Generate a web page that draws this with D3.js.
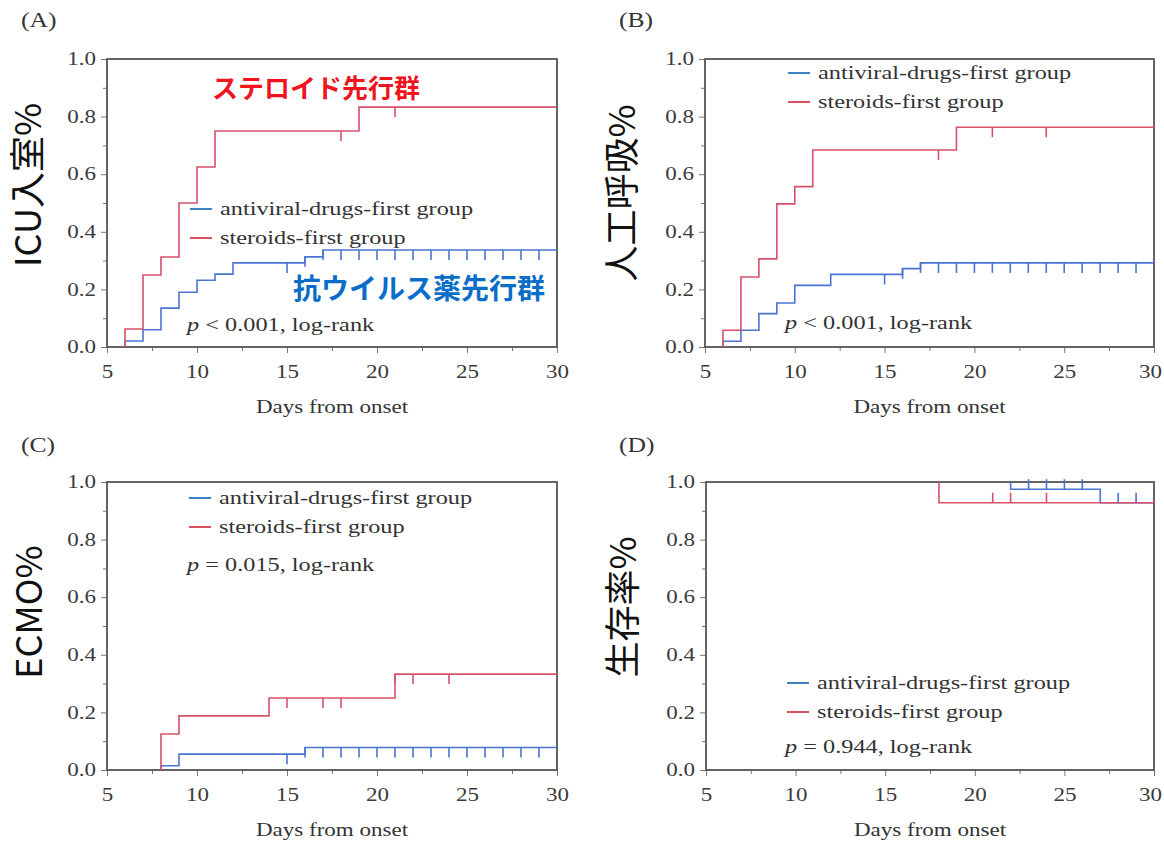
<!DOCTYPE html>
<html>
<head>
<meta charset="utf-8">
<script src="https://cdn.jsdelivr.net/npm/d3@7"></script>
<style>
  body { margin: 0; background: #fff; }
  svg { display: block; }
</style>
</head>
<body>
<svg width="1164" height="842"></svg>
<script>
// **** Data ****
var dayTicks = [5, 10, 15, 20, 25, 30];
var dayMinorTicks = [7.5, 12.5, 17.5, 22.5, 27.5];
var rateTicks = [0, 0.2, 0.4, 0.6, 0.8, 1.0];
var rateMinorTicks = [0.1, 0.3, 0.5, 0.7, 0.9];

var legendNames = ["antiviral-drugs-first group", "steroids-first group"];

// (A) ICU admission
var icuAntiviralTimes = [6, 7, 8, 9, 10, 11, 12, 16, 17];
var icuAntiviralValues = [0.021, 0.06, 0.135, 0.19, 0.232, 0.253, 0.292, 0.313, 0.337];
var icuAntiviralCensor = [15, 16, 17, 18, 19, 20, 21, 22, 23, 24, 25, 26, 27, 28, 29];
var icuSteroidTimes = [6, 7, 8, 9, 10, 11, 19];
var icuSteroidValues = [0.0625, 0.25, 0.3125, 0.5, 0.625, 0.75, 0.833];
var icuSteroidCensor = [18, 21];

// (B) mechanical ventilation
var ventAntiviralTimes = [6, 7, 8, 9, 10, 12, 16, 17];
var ventAntiviralValues = [0.02, 0.058, 0.116, 0.153, 0.214, 0.252, 0.272, 0.292];
var ventAntiviralCensor = [15, 16, 17, 18, 19, 20, 21, 22, 23, 24, 25, 26, 27, 28, 29];
var ventSteroidTimes = [6, 7, 8, 9, 10, 11, 19];
var ventSteroidValues = [0.058, 0.243, 0.306, 0.497, 0.557, 0.684, 0.763];
var ventSteroidCensor = [18, 21, 24];

// (C) ECMO
var ecmoAntiviralTimes = [8, 9, 16];
var ecmoAntiviralValues = [0.015, 0.055, 0.078];
var ecmoAntiviralCensor = [15, 16, 17, 18, 19, 20, 21, 22, 23, 24, 25, 26, 27, 28, 29];
var ecmoSteroidTimes = [8, 9, 14, 21];
var ecmoSteroidValues = [0.125, 0.188, 0.25, 0.333];
var ecmoSteroidCensor = [15, 17, 18, 21, 22, 24];

// (D) survival
var survAntiviralTimes = [22, 27];
var survAntiviralValues = [0.975, 0.928];
var survAntiviralCensor = [23, 24, 25, 26, 28, 29];
var survSteroidTimes = [18];
var survSteroidValues = [0.928];
var survSteroidCensor = [21, 22, 24];

// **** Layout ****
var SX = 1.28;            // the original figure is stretched sideways
var serif = "'Liberation Serif', 'Times New Roman', serif";
var cjk = "'Noto Sans CJK JP', 'Noto Sans', sans-serif";
var blue = "#4b74d2", red = "#d8506a";
var blueKey = "#3d82c4", redKey = "#d9505f";

var panels = [
    { tag: "(A)", title: "ICU入室%", box: [107, 557, 59, 347], tagPos: [21, 27], titlePos: [28, 185],
      legend: [190, 209], pText: "< 0.001, log-rank", pPos: [187, 331], init: 0,
      series: [[icuAntiviralTimes, icuAntiviralValues, icuAntiviralCensor],
               [icuSteroidTimes, icuSteroidValues, icuSteroidCensor]] },
    { tag: "(B)", title: "人工呼吸%", box: [705, 1154, 59, 347], tagPos: [619, 27], titlePos: [622, 193],
      legend: [788, 73], pText: "< 0.001, log-rank", pPos: [785, 329], init: 0,
      series: [[ventAntiviralTimes, ventAntiviralValues, ventAntiviralCensor],
               [ventSteroidTimes, ventSteroidValues, ventSteroidCensor]] },
    { tag: "(C)", title: "ECMO%", box: [107, 557, 482, 770], tagPos: [21, 452], titlePos: [29, 612],
      legend: [189, 498], pText: "= 0.015, log-rank", pPos: [187, 571], init: 0,
      series: [[ecmoAntiviralTimes, ecmoAntiviralValues, ecmoAntiviralCensor],
               [ecmoSteroidTimes, ecmoSteroidValues, ecmoSteroidCensor]] },
    { tag: "(D)", title: "生存率%", box: [706, 1154, 482, 770], tagPos: [619, 452], titlePos: [623, 607],
      legend: [787, 683], pText: "= 0.944, log-rank", pPos: [785, 753], init: 1,
      series: [[survAntiviralTimes, survAntiviralValues, survAntiviralCensor],
               [survSteroidTimes, survSteroidValues, survSteroidCensor]] }
];

var svg = d3.select("svg");

// stretched serif text
function serifText(parent, x, y, size, anchor) {
    return parent.append("g")
        .attr("transform", "translate(" + x + "," + y + ") scale(" + SX + ",1)")
        .append("text")
        .attr("text-anchor", anchor || "start")
        .style("font-family", serif)
        .style("font-size", size + "px")
        .attr("fill", "#333");
}

function stepPath(x, y, init, times, values) {
    var d = "M" + x(times[0]) + "," + y(init);
    times.forEach(function(t, i) {
        d += "H" + x(t) + "V" + y(values[i]);
    });
    return d + "H" + x(30);
}

function valueAt(init, times, values, t) {
    var v = init;
    times.forEach(function(s, i) { if (s <= t) v = values[i]; });
    return v;
}

panels.forEach(function(p) {
    var x = d3.scaleLinear().domain([5, 30]).range([p.box[0], p.box[1]]);
    var y = d3.scaleLinear().domain([0, 1]).range([p.box[3], p.box[2]]);
    var g = svg.append("g");

    // minor ticks
    g.append("g").attr("transform", "translate(0," + p.box[3] + ")")
        .call(d3.axisBottom(x).tickValues(dayMinorTicks).tickSize(4).tickSizeOuter(0).tickFormat(""));
    g.append("g").attr("transform", "translate(" + p.box[0] + ",0)")
        .call(d3.axisLeft(y).tickValues(rateMinorTicks).tickSize(4).tickSizeOuter(0).tickFormat(""));

    // major ticks
    var xa = g.append("g").attr("transform", "translate(0," + p.box[3] + ")")
        .call(d3.axisBottom(x).tickValues(dayTicks).tickSize(6).tickSizeOuter(0).tickPadding(12));
    var ya = g.append("g").attr("transform", "translate(" + p.box[0] + ",0)")
        .call(d3.axisLeft(y).tickValues(rateTicks).tickSize(6).tickSizeOuter(0)
              .tickFormat(d3.format(".1f")));

    g.selectAll(".domain").remove();
    g.selectAll(".tick line").attr("stroke", "#777");
    g.selectAll(".tick text").style("font-family", serif).style("font-size", "18px").attr("fill", "#3a3a3a");
    xa.selectAll(".tick text")
        .attr("transform", "scale(" + SX + ",1)")
        .attr("x", function(d) { return (d === 30 && p.box[1] > 1000) ? -4 / SX : 0; });
    ya.selectAll(".tick text").attr("x", -11 / SX).attr("transform", "scale(" + SX + ",1)");

    // frame
    g.append("rect")
        .attr("x", p.box[0]).attr("y", p.box[2])
        .attr("width", p.box[1] - p.box[0]).attr("height", p.box[3] - p.box[2])
        .attr("fill", "none").attr("stroke", "#555").attr("stroke-width", 1.8);

    // curves and censor marks
    var colors = [blue, red];
    var dir = p.init === 1 ? -10 : 10;
    p.series.forEach(function(s, k) {
        g.append("path")
            .attr("d", stepPath(x, y, p.init, s[0], s[1]))
            .attr("fill", "none").attr("stroke", colors[k]).attr("stroke-width", 1.6);
        g.selectAll(null).data(s[2]).enter().append("line")
            .attr("x1", function(t) { return x(t); })
            .attr("x2", function(t) { return x(t); })
            .attr("y1", function(t) { return y(valueAt(p.init, s[0], s[1], t)); })
            .attr("y2", function(t) { return y(valueAt(p.init, s[0], s[1], t)) + dir; })
            .attr("stroke", colors[k]).attr("stroke-width", 1.6);
    });

    // legend
    var keyColors = [blueKey, redKey];
    legendNames.forEach(function(name, k) {
        var ly = p.legend[1] + k * 29;
        g.append("line")
            .attr("x1", p.legend[0]).attr("x2", p.legend[0] + 22)
            .attr("y1", ly).attr("y2", ly)
            .attr("stroke", keyColors[k]).attr("stroke-width", 2);
        serifText(g, p.legend[0] + 30, ly + 6, 19).text(name);
    });

    // p value
    var pt = serifText(g, p.pPos[0], p.pPos[1], 19);
    pt.append("tspan").style("font-style", "italic").text("p");
    pt.append("tspan").text(" " + p.pText);

    // axis title and panel tag
    serifText(g, (p.box[0] + p.box[1]) / 2, p.box[3] + 66, 18, "middle").text("Days from onset");
    serifText(g, p.tagPos[0], p.tagPos[1], 20).text(p.tag);

    g.append("text")
        .attr("transform", "translate(" + p.titlePos[0] + "," + p.titlePos[1] + ") rotate(-90)")
        .attr("text-anchor", "middle")
        .attr("dy", "0.36em")
        .style("font-family", cjk)
        .style("font-size", "36px")
        .attr("fill", "#111")
        .text(p.title);
});

// Japanese callouts on panel A
svg.append("text")
    .attr("x", 212).attr("y", 98)
    .style("font-family", cjk).style("font-size", "26px").style("font-weight", "bold")
    .attr("fill", "#f0141e")
    .text("ステロイド先行群");

svg.append("text")
    .attr("x", 293).attr("y", 299)
    .style("font-family", cjk).style("font-size", "28px").style("font-weight", "bold")
    .attr("fill", "#0a6ec8")
    .text("抗ウイルス薬先行群");
</script>
</body>
</html>
